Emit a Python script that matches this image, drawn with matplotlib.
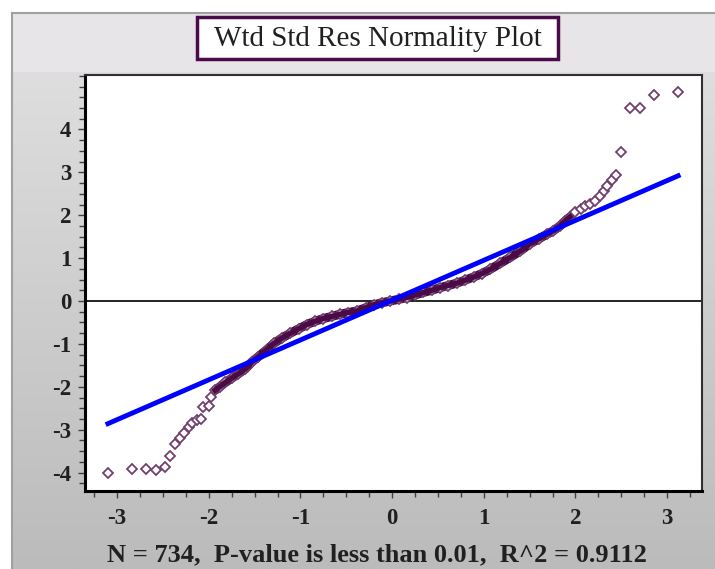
import matplotlib
matplotlib.use("Agg")
import matplotlib.pyplot as plt
import numpy as np
from matplotlib.patches import Rectangle
from matplotlib.ticker import MultipleLocator

plt.rcParams["axes.unicode_minus"] = False

# normal scores (theoretical quantiles) and weighted standardized residuals
normal_scores = [
    -3.10, -2.84, -2.69, -2.58, -2.48, -2.42, -2.37, -2.31, -2.27, -2.22,
    -2.18, -2.13, -2.09, -2.06, -2.00, -1.98, -1.93, -1.88, -1.82, -1.75,
    -1.68, -1.60, -1.53, -1.46, -1.37, -1.29, -1.20, -1.11, -1.02, -0.93,
    -0.84, -0.75, -0.66, -0.57, -0.48, -0.38, -0.29, -0.20, -0.11, -0.02,
    0.07, 0.16, 0.25, 0.34, 0.43, 0.52, 0.61, 0.71, 0.80, 0.89,
    0.98, 1.07, 1.18, 1.29, 1.40, 1.50, 1.60, 1.69, 1.76, 1.83,
    1.89, 1.94, 2.00, 2.06, 2.10, 2.16, 2.21, 2.27, 2.31, 2.34,
    2.40, 2.44, 2.50, 2.59, 2.70, 2.86, 3.12,
]
std_residuals = [
    -4.02, -3.92, -3.92, -3.94, -3.86, -3.61, -3.33, -3.19, -3.07, -2.93,
    -2.84, -2.78, -2.75, -2.47, -2.44, -2.24, -2.08, -2.00, -1.90, -1.80,
    -1.70, -1.58, -1.42, -1.30, -1.14, -0.99, -0.86, -0.75, -0.65, -0.55,
    -0.47, -0.41, -0.36, -0.31, -0.27, -0.23, -0.16, -0.09, -0.04, 0.00,
    0.04, 0.08, 0.14, 0.20, 0.25, 0.31, 0.36, 0.42, 0.49, 0.56,
    0.64, 0.74, 0.88, 1.02, 1.17, 1.33, 1.45, 1.56, 1.64, 1.75,
    1.87, 1.96, 2.07, 2.14, 2.22, 2.26, 2.34, 2.45, 2.57, 2.69,
    2.82, 2.94, 3.47, 4.50, 4.50, 4.80, 4.87,
]

# fitted reference line end points
fit_x = [-3.10, 3.12]
fit_y = [-2.86, 2.92]

x_ticks = [-3, -2, -1, 0, 1, 2, 3]
y_ticks = [-4, -3, -2, -1, 0, 1, 2, 3, 4]

title = "Wtd Std Res Normality Plot"
footer = "N = 734,  P-value is less than 0.01,  R^2 = 0.9112"

W, H = 715, 569
fig = plt.figure(figsize=(W / 100, H / 100), dpi=100)
fig.patch.set_facecolor("white")

# background panel drawn in pixel coordinates
bg = fig.add_axes([0, 0, 1, 1], zorder=-10)
shade = np.linspace(0, 1, 256)[:, None, None]
c_top = np.array([0xdf, 0xde, 0xdf]) / 255
c_bot = np.array([0xbb, 0xbb, 0xbb]) / 255
bg.imshow(c_top + (c_bot - c_top) * shade, extent=[12, W, H, 72], aspect="auto")
bg.add_patch(Rectangle((12, 13), W - 12, 59, facecolor="#e7e5e7", edgecolor="none"))
bg.plot([12, 12], [13, H], color="#a0a0a0", lw=1.5)
bg.plot([12, W], [13, 13], color="#a0a0a0", lw=1.5)
bg.add_patch(Rectangle((197, 17), 361, 42, facecolor="white",
                       edgecolor="#4b0b4b", lw=2.5))
bg.text(377.5, 39, title, ha="center", va="center",
        family="Liberation Serif", fontsize=21, color="#202020")
bg.text(377, 555, footer, ha="center", va="center",
        family="Liberation Serif", fontweight="bold", fontsize=19, color="#202020")
bg.set_xlim(0, W)
bg.set_ylim(H, 0)
bg.axis("off")

ax = fig.add_axes([85 / W, 1 - 491 / H, (702 - 85) / W, (491 - 75) / H])
ax.set_facecolor("white")
ax.set_xlim(-3.35, 3.38)
ax.set_ylim(-4.43, 5.27)

ax.axhline(0, color="black", lw=1.2, zorder=1)

nx = np.array(normal_scores)
ny = np.array(std_residuals)
dense = (nx > -1.95) & (nx < 1.95)
ax.plot(nx[dense], ny[dense], color="#4a0a45", lw=6.5, solid_capstyle="round", zorder=2)
ax.plot(nx, ny, linestyle="none", marker="D", ms=5, mfc="white",
        mec="#70406c", mew=1.3, zorder=3)
ax.plot(nx[dense], ny[dense], color="#4a0a45", lw=4, zorder=3.5)
ax.plot(fit_x, fit_y, color="#0000ff", lw=3.5, zorder=4)

ax.set_xticks(x_ticks)
ax.set_yticks(y_ticks)
ax.xaxis.set_minor_locator(MultipleLocator(0.25))
ax.yaxis.set_minor_locator(MultipleLocator(0.25))
ax.tick_params(which="major", direction="out", length=5, width=1, color="#404040")
ax.tick_params(which="minor", direction="out", length=4, width=1, color="#404040")
ax.tick_params(axis="x", pad=7)
ax.tick_params(axis="y", pad=5)
for lab in ax.get_xticklabels() + ax.get_yticklabels():
    lab.set_family("Liberation Serif")
    lab.set_fontweight("bold")
    lab.set_fontsize(16.5)
    lab.set_color("#202020")

for side in ("left", "bottom"):
    ax.spines[side].set_linewidth(2.2)
    ax.spines[side].set_color("black")
for side in ("top", "right"):
    ax.spines[side].set_linewidth(1.5)
    ax.spines[side].set_color("#303030")

fig.savefig("out.png", dpi=100)
